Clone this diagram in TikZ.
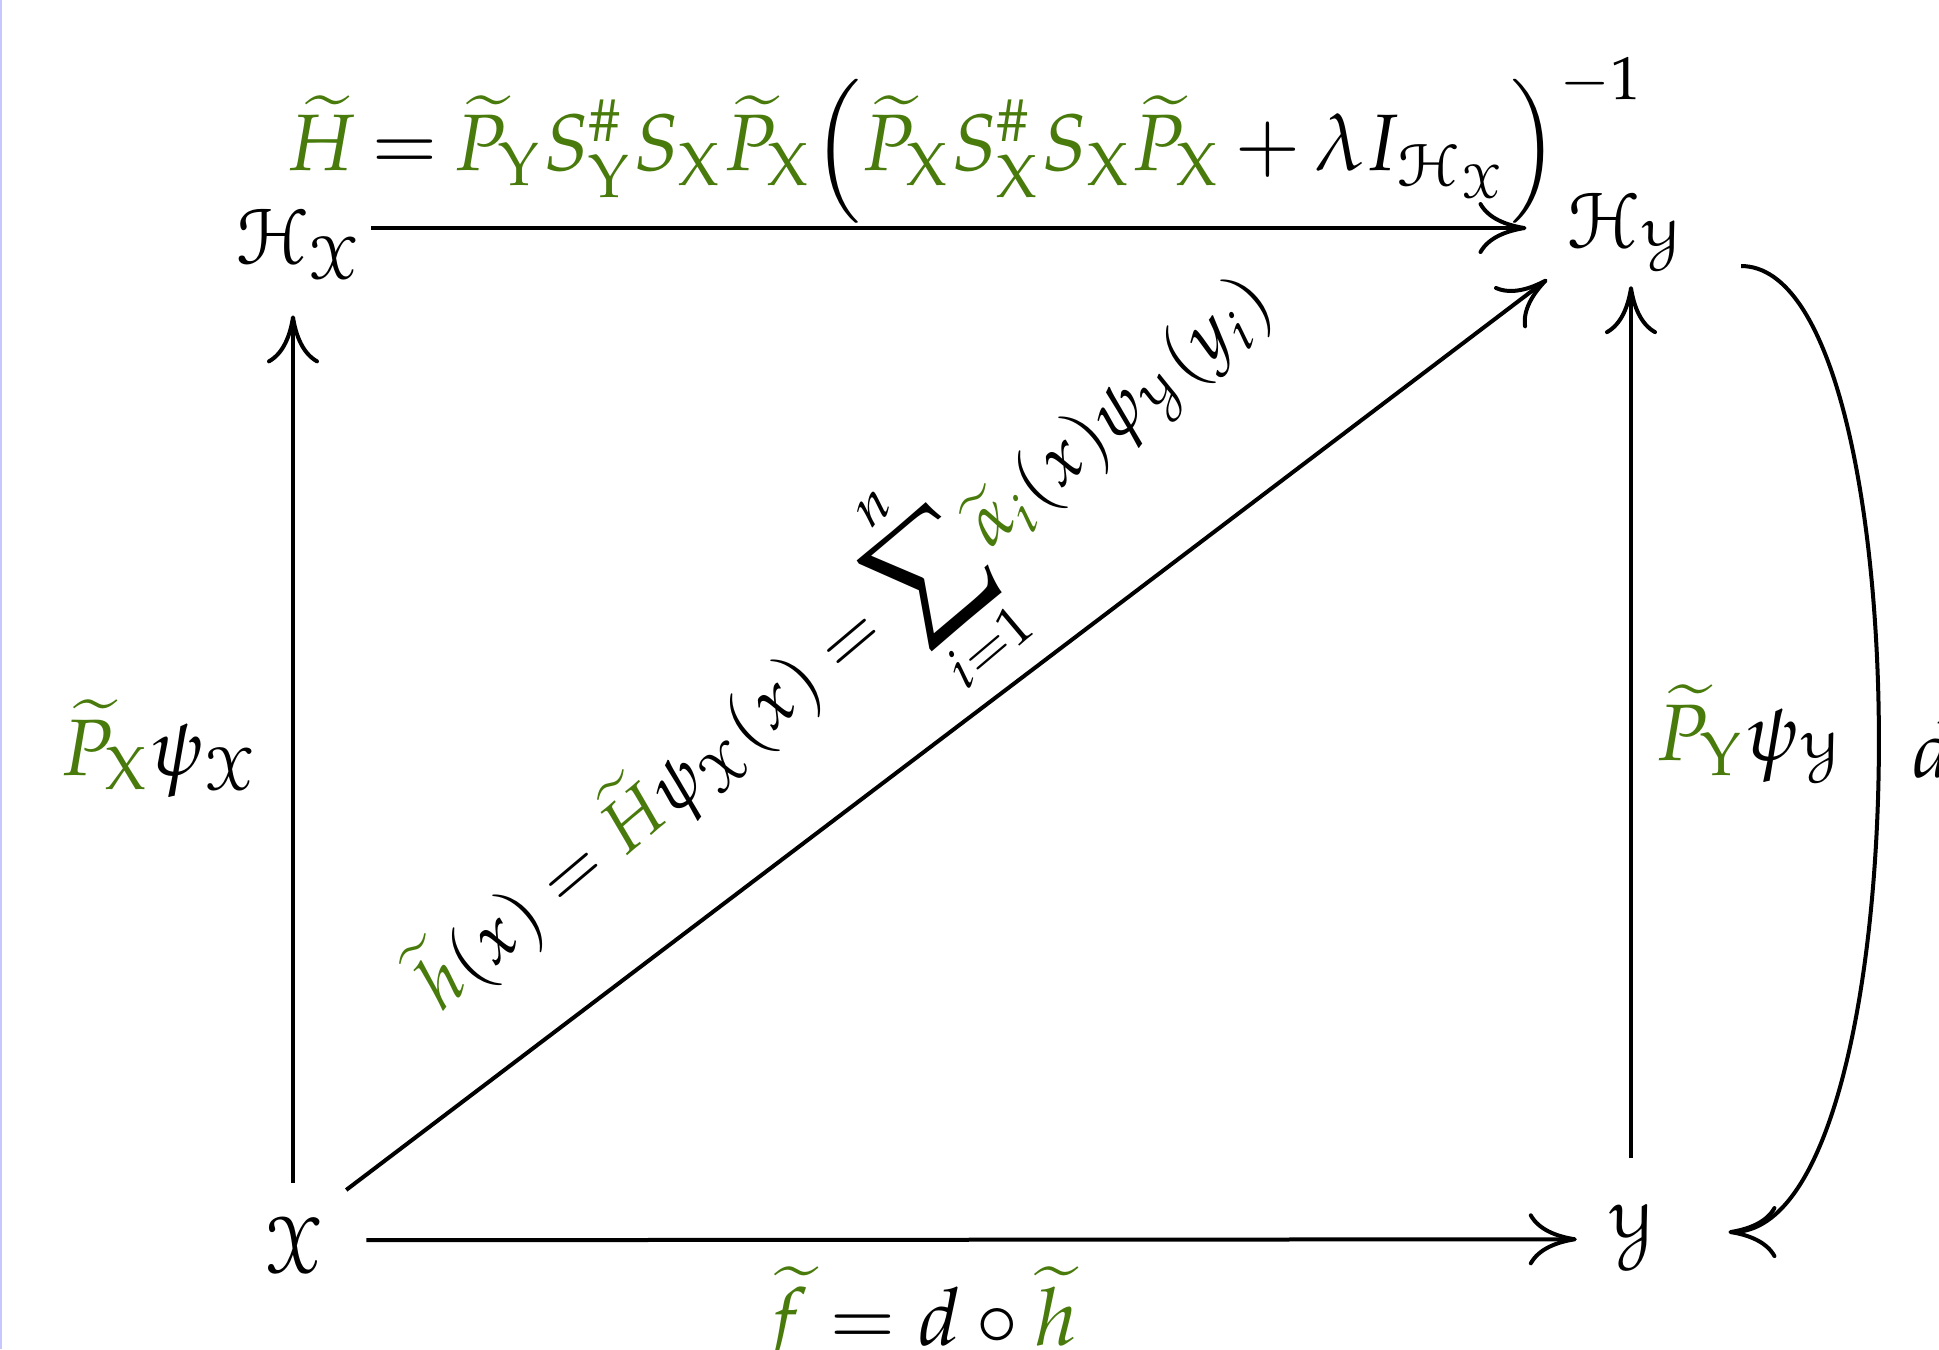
\documentclass[tikz,border=0pt]{standalone}
\usepackage{amsmath}
\usepackage{mathpazo}
\usepackage{eucal}
\usepackage{tikz}
\usetikzlibrary{arrows.meta, positioning}
\definecolor{tgreen}{RGB}{72,122,12}
\newcommand{\gr}[1]{\textcolor{tgreen}{#1}}
\newcommand{\bigsum}{\mathop{\vcenter{\hbox{\scalebox{1.3}{$\displaystyle\sum$}}}}\limits}
\tikzstyle{obj} = [inner sep=0pt]
\tikzstyle{lbl} = [inner sep=2pt]
\tikzstyle{arrow} = [line width=0.5pt, -{Computer Modern Rightarrow[length=6pt, width=6.5pt]}]

\begin{document}
\begin{tikzpicture}[x=0.125pt, y=-0.125pt]
    \useasboundingbox (0,0) rectangle (1939,1349);
    \fill[blue!22] (0,0) rectangle (2.5,1349);
    \node[obj] (hx) at (300,244) {$\mathcal{H}_{\mathcal{X}}$};
    \node[obj] (hy) at (1627,228) {$\mathcal{H}_{\mathcal{Y}}$};
    \node[obj] (x) at (293,1245) {$\mathcal{X}$};
    \node[obj] (y) at (1631,1232) {$\mathcal{Y}$};
    \draw[arrow, shorten <=0.75pt, shorten >=4.9pt] ([yshift=2pt]hx.east) -- (hy.west)
      node[midway, above, inner sep=0pt] (top) {$\thickmuskip=3.5mu \medmuskip=3mu \gr{\widetilde{H}} = \gr{\widetilde{P}_{\mathrm{Y}} S^{\#}_{\mathrm{Y}} S_{\mathrm{X}} \widetilde{P}_{\mathrm{X}}} \Bigl( \gr{\widetilde{P}_{\mathrm{X}} S^{\#}_{\mathrm{X}} S_{\mathrm{X}} \widetilde{P}_{\mathrm{X}}} + \lambda I_{\mathcal{H}_{\mathcal{X}}} \Bigr)^{-1}$};
    \draw[arrow, shorten <=5.4pt, shorten >=3.6pt] ([yshift=0.6pt]x.east) -- ([yshift=-0.9pt]y.west)
      node[pos=0.465, below=1.1pt, lbl] (bot) {$\gr{\widetilde{f}} = d \circ \gr{\widetilde{h}}$};
    \draw[arrow, shorten <=4.1pt, shorten >=4.25pt] (x.north) -- (x.north |- hx.south)
      node[midway, left=2pt, lbl] (lft) {$\gr{\widetilde{P}_{\mathrm{X}}}\psi_{\mathcal{X}}$};
    \draw[arrow, shorten <=5.5pt, shorten >=2.6pt] (y.north) -- (y.north |- hy.south)
      node[midway, right=0.9pt, lbl] (rgt) {$\gr{\widetilde{P}_{\mathrm{Y}}}\psi_{\mathcal{Y}}$};
    \draw[arrow, shorten <=3.6pt, shorten >=2.9pt] ([yshift=1pt]x.north east) -- (hy.south west)
      node[pos=0.49, sloped, rotate=3, above=-0.7pt, lbl, font=\small] (diag) {$\displaystyle \gr{\widetilde{h}}(x) = \gr{\widetilde{H}}\psi_{\mathcal{X}}(x) = \bigsum_{i=1}^{n}\gr{\widetilde{\alpha}_i}(x)\psi_{\mathcal{Y}}(y_i)$};
    % d : Hy -> Y
    \draw[arrow] ([xshift=6.6pt, yshift=-4.75pt]hy.east) .. controls +(185,0) and +(198,0) .. ([xshift=9pt]y.east)
      node[midway, right=2pt, lbl] (dlab) {$d$};
  \end{tikzpicture}
\end{document}
